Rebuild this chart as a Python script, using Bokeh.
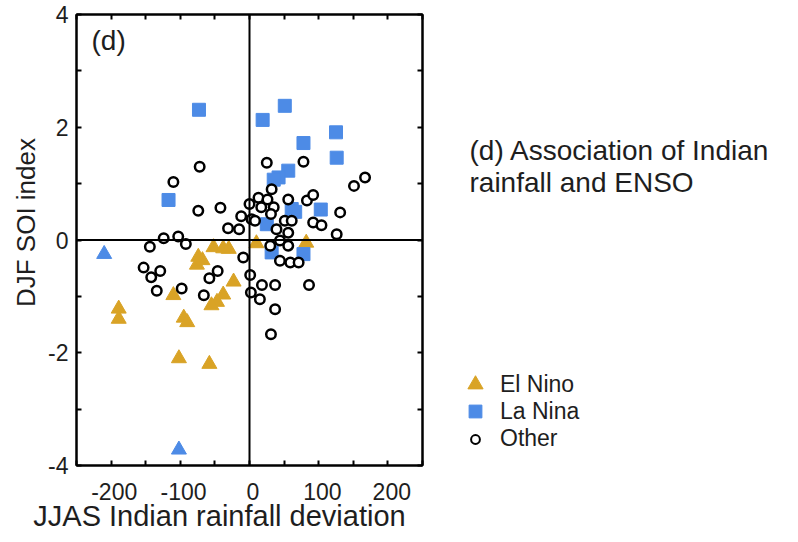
from bokeh.plotting import figure
from bokeh.layouts import row, column
from bokeh.models import (Span, Label, Legend, LegendItem, LinearAxis, FixedTicker,
                          Range1d, CustomJSTickFormatter, ColumnDataSource)
from bokeh.core.properties import value
from bokeh.embed import file_html
from bokeh.resources import INLINE
import math

# ---- data ----
elnino_x = [-189, -189, -110, -95, -90, -102, -58, -74, -76, -68, -52, -38, -30, -23, -38, -47, -55, 10, 82]
elnino_y = [-1.22, -1.40, -0.98, -1.38, -1.46, -2.10, -2.20, -0.30, -0.44, -0.36, -0.13, -0.15, -0.16, -0.74, -0.97, -1.10, -1.16, -0.06, -0.05]

lanina_x = [-73, -117, 19, 51, 125, 78, 126, 56, 42, 35, 61, 103, 25, 32, 78, 66]
lanina_y = [2.31, 0.71, 2.13, 2.38, 1.91, 1.72, 1.46, 1.23, 1.11, 1.07, 0.55, 0.54, 0.28, -0.22, -0.25, 0.50]

# blue triangles (not in legend)
blue_tri_x = [-210, -102]
blue_tri_y = [-0.25, -3.72]

other_x = [-72, -110, -74, -42, -144, -124, -103, -92, -153, -142, -129, -134, -98, -66, -58, -46,
           -31, -15, -12, -9, 0, 13, 26, 32, 3, 17, 35, 31, 8, 56, 83, 92, 39, 51, 61, 56, 44, 30,
           56, 44, 59, 71, 92, 104, 25, 78, 131, 126, 151, 167, 86, 1, 18, 37, 15, 2, 37, 31]
other_y = [1.30, 1.03, 0.52, 0.57, -0.12, 0.03, 0.06, -0.07, -0.49, -0.66, -0.55, -0.90, -0.86, -0.98, -0.68, -0.55,
           0.21, 0.19, 0.42, -0.31, 0.64, 0.75, 0.72, 0.90, 0.37, 0.58, 0.58, 0.46, 0.34, 0.72, 0.70, 0.80, 0.19, 0.34, 0.34, 0.13, -0.01, -0.10,
           -0.10, -0.37, -0.40, -0.40, 0.31, 0.26, 1.37, 1.39, 0.49, 0.10, 0.96, 1.11, -0.80, -0.62, -0.80, -0.80, -1.05, -0.93, -1.23, -1.67]

x_ticks = [-200, -100, 0, 100, 200]
x_minor = [-250, -150, -50, 50, 150, 250]
y_ticks = [-4, -2, 0, 2, 4]
y_minor = [-3, -1, 1, 3]
x_tick_labels = [str(t) for t in x_ticks]

BLUE = "#4d8be6"
GOLD = "#d9a326"
INK = "#1e1e1e"
FONT = "Liberation Sans"
NAN = float("nan")

# ---- layout constants (pixels) ----
TOTAL_W = 782
YT_W = 45            # y-title strip
P_LEFT, P_RIGHT = 30, 8
FRAME_W, FRAME_H = 347, 451
TOP, BOTTOM = 14, 13
ROW_H = TOP + FRAME_H + BOTTOM
P_W = P_LEFT + FRAME_W + P_RIGHT
S_W = TOTAL_W - YT_W - P_W
XT_H = 526 - ROW_H
X0, X1 = -250, 250
Y0, Y1 = -4, 4

# ---------------- main scatter plot ----------------
p = figure(width=P_W, height=ROW_H, output_backend="svg", toolbar_location=None, title=None,
           x_range=Range1d(X0, X1), y_range=Range1d(Y0, Y1),
           min_border_left=P_LEFT, min_border_right=P_RIGHT, min_border_top=TOP, min_border_bottom=BOTTOM)
p.grid.visible = False
p.outline_line_color = "black"
p.outline_line_width = 2

plain = CustomJSTickFormatter(code="return String(tick)")
empty = CustomJSTickFormatter(code="return ''")
for ax in (p.xaxis[0], p.yaxis[0]):
    ax.major_tick_in = 5
    ax.major_tick_out = 0
    ax.minor_tick_in = 5
    ax.minor_tick_out = 0
    ax.axis_line_color = "black"
    ax.axis_line_width = 2
    ax.major_tick_line_width = 2
    ax.minor_tick_line_width = 2
    ax.major_label_text_font = FONT
    ax.major_label_text_color = INK
p.xaxis[0].ticker = FixedTicker(ticks=x_ticks, minor_ticks=x_minor)
p.xaxis[0].formatter = empty
p.xaxis[0].major_label_text_font_size = "8px"
p.xaxis[0].major_label_standoff = 0
p.yaxis[0].ticker = FixedTicker(ticks=y_ticks, minor_ticks=y_minor)
p.yaxis[0].formatter = plain
p.yaxis[0].major_label_text_font_size = "23px"
p.yaxis[0].major_label_standoff = 8

common = dict(formatter=empty, major_tick_in=5, major_tick_out=0, minor_tick_in=5, minor_tick_out=0,
              major_tick_line_width=2, minor_tick_line_width=2, axis_line_width=2,
              major_label_standoff=0, major_label_text_font_size="8px")
p.add_layout(LinearAxis(ticker=FixedTicker(ticks=x_ticks, minor_ticks=x_minor), **common), "above")
p.add_layout(LinearAxis(ticker=FixedTicker(ticks=y_ticks, minor_ticks=y_minor), **common), "right")

p.add_layout(Span(location=0, dimension="height", line_color="black", line_width=2))
p.add_layout(Span(location=0, dimension="width", line_color="black", line_width=2))

p.scatter(elnino_x, elnino_y, marker="triangle", size=15, fill_color=GOLD, line_color=GOLD)
p.scatter(blue_tri_x, blue_tri_y, marker="triangle", size=15, fill_color=BLUE, line_color=BLUE)
p.scatter(lanina_x, lanina_y, marker="square", size=13, fill_color=BLUE, line_color=BLUE)
p.scatter(other_x, other_y, marker="circle", size=9.5, fill_color="white", line_color="black",
          line_width=2.5)

p.add_layout(Label(text="(d)", x=15, y=425, x_units="screen", y_units="screen",
                   text_font=FONT, text_font_size="28px", text_color=INK,
                   text_baseline="middle", text_align="left"))

# ---------------- y-axis title strip ----------------
yt = figure(width=YT_W, height=ROW_H, output_backend="svg", toolbar_location=None, title=None,
            x_range=Range1d(0, YT_W), y_range=p.y_range,
            x_axis_location=None, y_axis_location=None, outline_line_color=None,
            min_border_left=0, min_border_right=0, min_border_top=TOP, min_border_bottom=BOTTOM)
yt.grid.visible = False
yt.add_layout(Label(text="DJF SOI index", x=25, y=0.31, x_units="screen", y_units="data",
                    angle=math.pi / 2, text_font=FONT, text_font_size="26px", text_color=INK,
                    text_baseline="middle", text_align="center"))

# ---------------- side panel: caption and legend ----------------
s = figure(width=S_W, height=ROW_H, output_backend="svg", toolbar_location=None, title=None,
           x_range=Range1d(0, S_W), y_range=Range1d(0, FRAME_H),
           x_axis_location=None, y_axis_location=None, outline_line_color=None,
           min_border_left=0, min_border_right=0, min_border_top=TOP, min_border_bottom=BOTTOM)
s.grid.visible = False

for txt, yy in (("(d) Association of Indian", 315), ("rainfall and ENSO", 283)):
    s.add_layout(Label(text=txt, x=39, y=yy, x_units="screen", y_units="screen",
                       text_font=FONT, text_font_size="28px", text_color=INK,
                       text_baseline="middle", text_align="left"))

d_el = s.scatter([NAN], [NAN], marker="triangle", fill_color=GOLD, line_color=GOLD)
d_la = s.scatter([NAN], [NAN], marker="square", fill_color=BLUE, line_color=BLUE)
d_ot = s.scatter([NAN], [NAN], marker="circle", fill_color="white", line_color="black", line_width=2)

for lbl, rr, gw, gh, loc, so in (("El Nino", d_el, 38, 38, (26, 62), 6),
                                 ("La Nina", d_la, 32, 32, (29, 38), 9),
                                 ("Other", d_ot, 22, 26, (34, 13), 14)):
    lg = Legend(items=[LegendItem(label=lbl, renderers=[rr])], location=loc,
                padding=0, margin=0, spacing=0, glyph_width=gw, glyph_height=gh,
                label_height=gh, label_standoff=so,
                label_text_font=FONT, label_text_font_size="23px", label_text_color=INK,
                border_line_color=None, background_fill_alpha=0)
    s.add_layout(lg, "center")

# ---------------- bottom strip: x tick labels and x title ----------------
# x scale of this strip is aligned with the main plot's frame
k = (X1 - X0) / FRAME_W
frame_left = YT_W + P_LEFT
xt = figure(width=TOTAL_W, height=XT_H, output_backend="svg", toolbar_location=None, title=None,
            x_range=Range1d(X0 - frame_left * k, X1 + (TOTAL_W - frame_left - FRAME_W) * k),
            y_range=Range1d(0, XT_H),
            x_axis_location=None, y_axis_location=None, outline_line_color=None, min_border=0)
xt.grid.visible = False
tick_src = ColumnDataSource(dict(x=x_ticks, y=[XT_H - 13] * len(x_ticks), t=x_tick_labels))
xt.text(x="x", y="y", text="t", source=tick_src, x_offset=4,
        text_font=value(FONT), text_font_size="23px", text_color=INK,
        text_align="center", text_baseline="middle")
xt.add_layout(Label(text="JJAS Indian rainfall deviation", x=frame_left - 75 + 219, y=11,
                    x_units="screen", y_units="screen",
                    text_font=FONT, text_font_size="29px", text_color=INK,
                    text_baseline="middle", text_align="center"))

open("out.html", "w").write(file_html(column(row(yt, p, s), xt), INLINE))
